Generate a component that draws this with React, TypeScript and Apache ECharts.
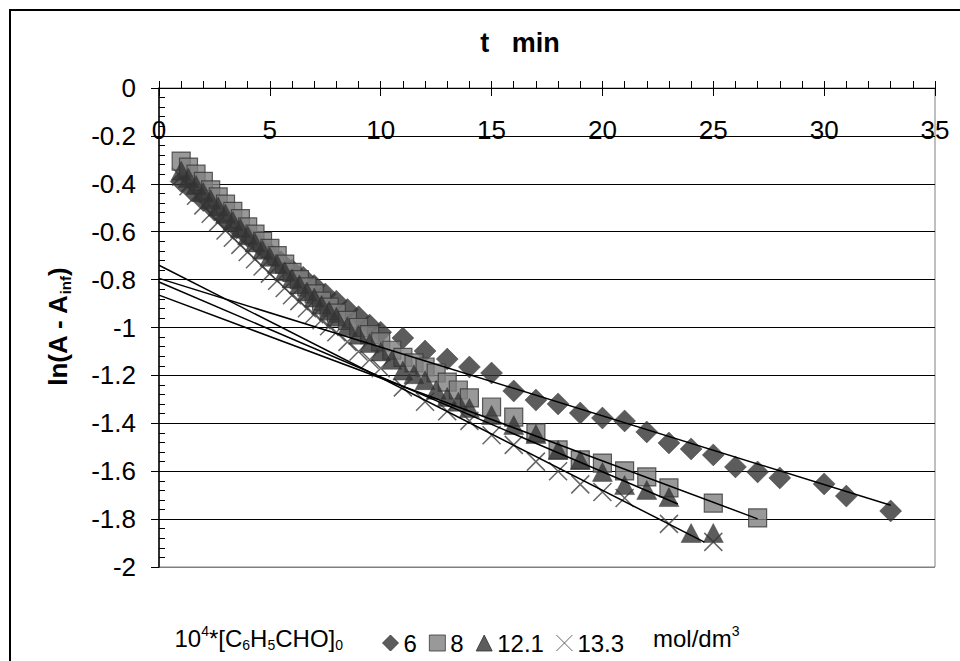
import { useEffect, useRef } from "react";
import * as echarts from "echarts";

const FONT = '"Liberation Sans", Arial, Helvetica, sans-serif';

// axis ranges
const xRange = { min: 0, max: 35, interval: 5 };
const yRange = { min: -2, max: 0, interval: 0.2 };

// series names (legend labels, 10^4*[C6H5CHO]0 in mol/dm3)
const names = ["6", "8", "12.1", "13.3"];

// t (min), ln(A - Ainf)
const s6: number[][] = [
  [1, -0.39], [1.5, -0.43], [2, -0.47], [2.5, -0.51], [3, -0.55], [3.5, -0.585],
  [4, -0.62], [4.5, -0.655], [5, -0.69], [5.5, -0.725], [6, -0.76], [6.5, -0.79],
  [7, -0.825], [7.5, -0.86], [8, -0.89], [8.5, -0.925], [9, -0.955], [9.5, -0.99],
  [10, -1.02], [11, -1.044], [12, -1.098], [13, -1.132], [14, -1.165], [15, -1.19],
  [16, -1.265], [17, -1.303], [18, -1.319], [19, -1.357], [20, -1.378], [21, -1.39],
  [22, -1.436], [23, -1.482], [24, -1.507], [25, -1.532], [26, -1.582], [27, -1.603],
  [28, -1.628], [30, -1.653], [31, -1.704], [33, -1.766],
];

const s8: number[][] = [
  [1, -0.305], [1.33, -0.33], [1.67, -0.36], [2, -0.39], [2.33, -0.425], [2.67, -0.455],
  [3, -0.485], [3.33, -0.515], [3.67, -0.545], [4, -0.58], [4.33, -0.61], [4.67, -0.64],
  [5, -0.67], [5.33, -0.7], [5.67, -0.735], [6, -0.77], [6.33, -0.8], [6.67, -0.83],
  [7, -0.86], [7.33, -0.89], [7.67, -0.915], [8, -0.94], [8.5, -0.97], [9, -1.0],
  [9.5, -1.03], [10, -1.06], [10.5, -1.095], [11, -1.125], [11.5, -1.148], [12, -1.165],
  [12.5, -1.19], [13, -1.228], [13.5, -1.261], [14, -1.294], [15, -1.332], [16, -1.374],
  [17, -1.44], [18, -1.511], [19, -1.553], [20, -1.566], [21, -1.599], [22, -1.624],
  [23, -1.67], [25, -1.733], [27, -1.795],
];

const s121: number[][] = [
  [1, -0.345], [1.33, -0.375], [1.67, -0.405], [2, -0.435], [2.33, -0.465], [2.67, -0.495],
  [3, -0.525], [3.33, -0.555], [3.67, -0.585], [4, -0.615], [4.33, -0.645], [4.67, -0.675],
  [5, -0.705], [5.33, -0.735], [5.67, -0.765], [6, -0.795], [6.33, -0.82], [6.67, -0.85],
  [7, -0.875], [7.33, -0.905], [7.67, -0.93], [8, -0.955], [8.5, -0.995], [9, -1.03],
  [9.5, -1.065], [10, -1.1], [10.5, -1.135], [11, -1.18], [11.5, -1.195], [12, -1.22],
  [12.5, -1.26], [13, -1.29], [13.5, -1.31], [14, -1.336], [15, -1.365], [16, -1.407],
  [17, -1.445], [18, -1.511], [19, -1.553], [20, -1.603], [21, -1.658], [22, -1.678],
  [23, -1.708], [24, -1.858], [25, -1.858],
];

const s133: number[][] = [
  [1, -0.37], [1.33, -0.41], [1.67, -0.45], [2, -0.49], [2.33, -0.525], [2.67, -0.56],
  [3, -0.595], [3.33, -0.625], [3.67, -0.655], [4, -0.685], [4.33, -0.715], [4.67, -0.745],
  [5, -0.775], [5.33, -0.805], [5.67, -0.835], [6, -0.865], [6.33, -0.89], [6.67, -0.92],
  [7, -0.945], [7.33, -0.97], [7.67, -0.995], [8, -1.02], [8.5, -1.06], [9, -1.1],
  [9.5, -1.135], [10, -1.17], [11, -1.25], [12, -1.31], [13, -1.35], [14, -1.39],
  [15, -1.45], [16, -1.49], [17, -1.56], [18, -1.6], [19, -1.655], [20, -1.687],
  [21, -1.712], [23, -1.82], [25, -1.895],
];

// linear trend lines (end points)
const fit6: number[][] = [[0, -0.795], [33, -1.742]];
const fit8: number[][] = [[0, -0.865], [27, -1.799]];
const fit121: number[][] = [[0, -0.81], [23.4, -1.737]];
const fit133: number[][] = [[0, -0.74], [24.6, -1.896]];

const CROSS = "path://M0,0L10,10M10,0L0,10";

export default function App() {
  const ref = useRef<HTMLDivElement>(null);
  useEffect(() => {
    if (!ref.current) return;
    const chart = echarts.init(ref.current, undefined, { renderer: "svg" });
    const gridColors = [
      "#808080", "#000", "#000", "#000", "#000", "#000",
      "#000", "#000", "#000", "#000", "#000",
    ];
    const fitSeries = (data: number[][]) => ({
      type: "line",
      data,
      symbol: "none",
      lineStyle: { color: "#000", width: 1.5 },
      z: 5,
      silent: true,
    });
    chart.setOption({
      animation: false,
      backgroundColor: "#fff",
      textStyle: { fontFamily: FONT },
      grid: {
        left: 159, top: 88, right: 25, bottom: 94,
        show: true, borderColor: "#808080", borderWidth: 1,
      },
      xAxis: [
        {
          type: "value", position: "top", ...xRange,
          axisLine: { show: true, onZero: false, lineStyle: { color: "#000", width: 1 } },
          axisTick: { show: true, length: 7, lineStyle: { color: "#000", width: 1 } },
          minorTick: { show: true, splitNumber: 5, length: 7, lineStyle: { color: "#000", width: 1 } },
          axisLabel: {
            inside: true, margin: 42, verticalAlign: "middle",
            fontSize: 26, color: "#000", fontFamily: FONT,
          },
          splitLine: { show: false },
        },
        {
          type: "value", position: "top", ...xRange,
          axisLine: { show: false },
          axisTick: { show: true, inside: true, length: 8, lineStyle: { color: "#000", width: 1 } },
          axisLabel: { show: false },
          splitLine: { show: false },
        },
      ],
      yAxis: [
        {
          type: "value", position: "left", ...yRange,
          axisLine: { show: true, onZero: false, lineStyle: { color: "#000", width: 1.5 } },
          axisTick: { show: true, length: 8, lineStyle: { color: "#000", width: 1 } },
          axisLabel: { margin: 23, fontSize: 26, color: "#000", fontFamily: FONT },
          splitLine: { show: true, lineStyle: { color: gridColors, width: 1 } },
        },
        {
          type: "value", position: "left", ...yRange,
          axisLine: { show: false },
          axisTick: { show: false, inside: true },
          minorTick: { show: true, splitNumber: 5, length: 6, lineStyle: { color: "#000", width: 1 } },
          axisLabel: { show: false },
          splitLine: { show: false },
        },
      ],
      legend: {
        left: 377, top: 626,
        itemWidth: 16, itemHeight: 16, itemGap: 12,
        selectedMode: false,
        itemStyle: { borderWidth: 1 },
        textStyle: { fontSize: 24, color: "#000", fontFamily: FONT },
        data: [
          { name: names[0], icon: "diamond" },
          { name: names[1], icon: "rect" },
          { name: names[2], icon: "triangle" },
          { name: names[3], icon: CROSS },
        ],
      },
      series: [
        {
          name: names[3], type: "scatter", data: s133, symbol: CROSS, symbolSize: 18,
          itemStyle: { color: "rgba(0,0,0,0)", borderColor: "#404040", borderWidth: 1.5 },
          z: 2,
        },
        {
          name: names[0], type: "scatter", data: s6, symbol: "diamond", symbolSize: 22,
          itemStyle: { color: "#333333", borderColor: "#333333", borderWidth: 0.5 },
          z: 2,
        },
        {
          name: names[1], type: "scatter", data: s8, symbol: "rect", symbolSize: 18,
          itemStyle: { color: "#808080", borderColor: "#383838", borderWidth: 1.2 },
          z: 2,
        },
        {
          name: names[2], type: "scatter", data: s121, symbol: "triangle", symbolSize: [20, 19],
          itemStyle: { color: "#333333", borderColor: "#333333", borderWidth: 0.5 },
          z: 2,
        },
        fitSeries(fit6),
        fitSeries(fit8),
        fitSeries(fit121),
        fitSeries(fit133),
      ],
      graphic: [
        {
          type: "rect", silent: true, z: 100,
          shape: { x: 10, y: 10, width: 1000, height: 700 },
          style: { fill: "none", stroke: "#000", lineWidth: 2 },
        },
        {
          type: "text", x: 520, y: 43, silent: true,
          style: {
            text: "t   min", fontSize: 27, fontWeight: "bold", fill: "#000",
            fontFamily: FONT, align: "center", verticalAlign: "middle",
          },
        },
        {
          type: "text", x: 58, y: 327, rotation: Math.PI / 2, silent: true,
          style: {
            text: "ln(A - A{sub|inf})",
            fontSize: 26, fontWeight: "bold", fill: "#000", fontFamily: FONT,
            align: "center", verticalAlign: "middle", lineHeight: 30,
            rich: {
              sub: { fontSize: 15, fontWeight: "bold", fontFamily: FONT, verticalAlign: "bottom", lineHeight: 15, fill: "#000" },
            },
          },
        },
        {
          type: "text", x: 343, y: 638, silent: true,
          style: {
            text: "10{sup|4}*[C{sub|6}H{sub|5}CHO]{sub|0}",
            fontSize: 24, fill: "#000", fontFamily: FONT,
            align: "right", verticalAlign: "middle", lineHeight: 28,
            rich: {
              sup: { fontSize: 14, fontFamily: FONT, verticalAlign: "top", lineHeight: 14, fill: "#000" },
              sub: { fontSize: 14, fontFamily: FONT, verticalAlign: "bottom", lineHeight: 14, fill: "#000" },
            },
          },
        },
        {
          type: "text", x: 653, y: 638, silent: true,
          style: {
            text: "mol/dm{sup|3}",
            fontSize: 24, fill: "#000", fontFamily: FONT,
            align: "left", verticalAlign: "middle", lineHeight: 28,
            rich: {
              sup: { fontSize: 14, fontFamily: FONT, verticalAlign: "top", lineHeight: 14, fill: "#000" },
            },
          },
        },
      ],
    });
    return () => chart.dispose();
  }, []);
  return (
    <div
      ref={ref}
      style={{ position: "absolute", left: 0, top: 0, width: 960, height: 661 }}
    />
  );
}
